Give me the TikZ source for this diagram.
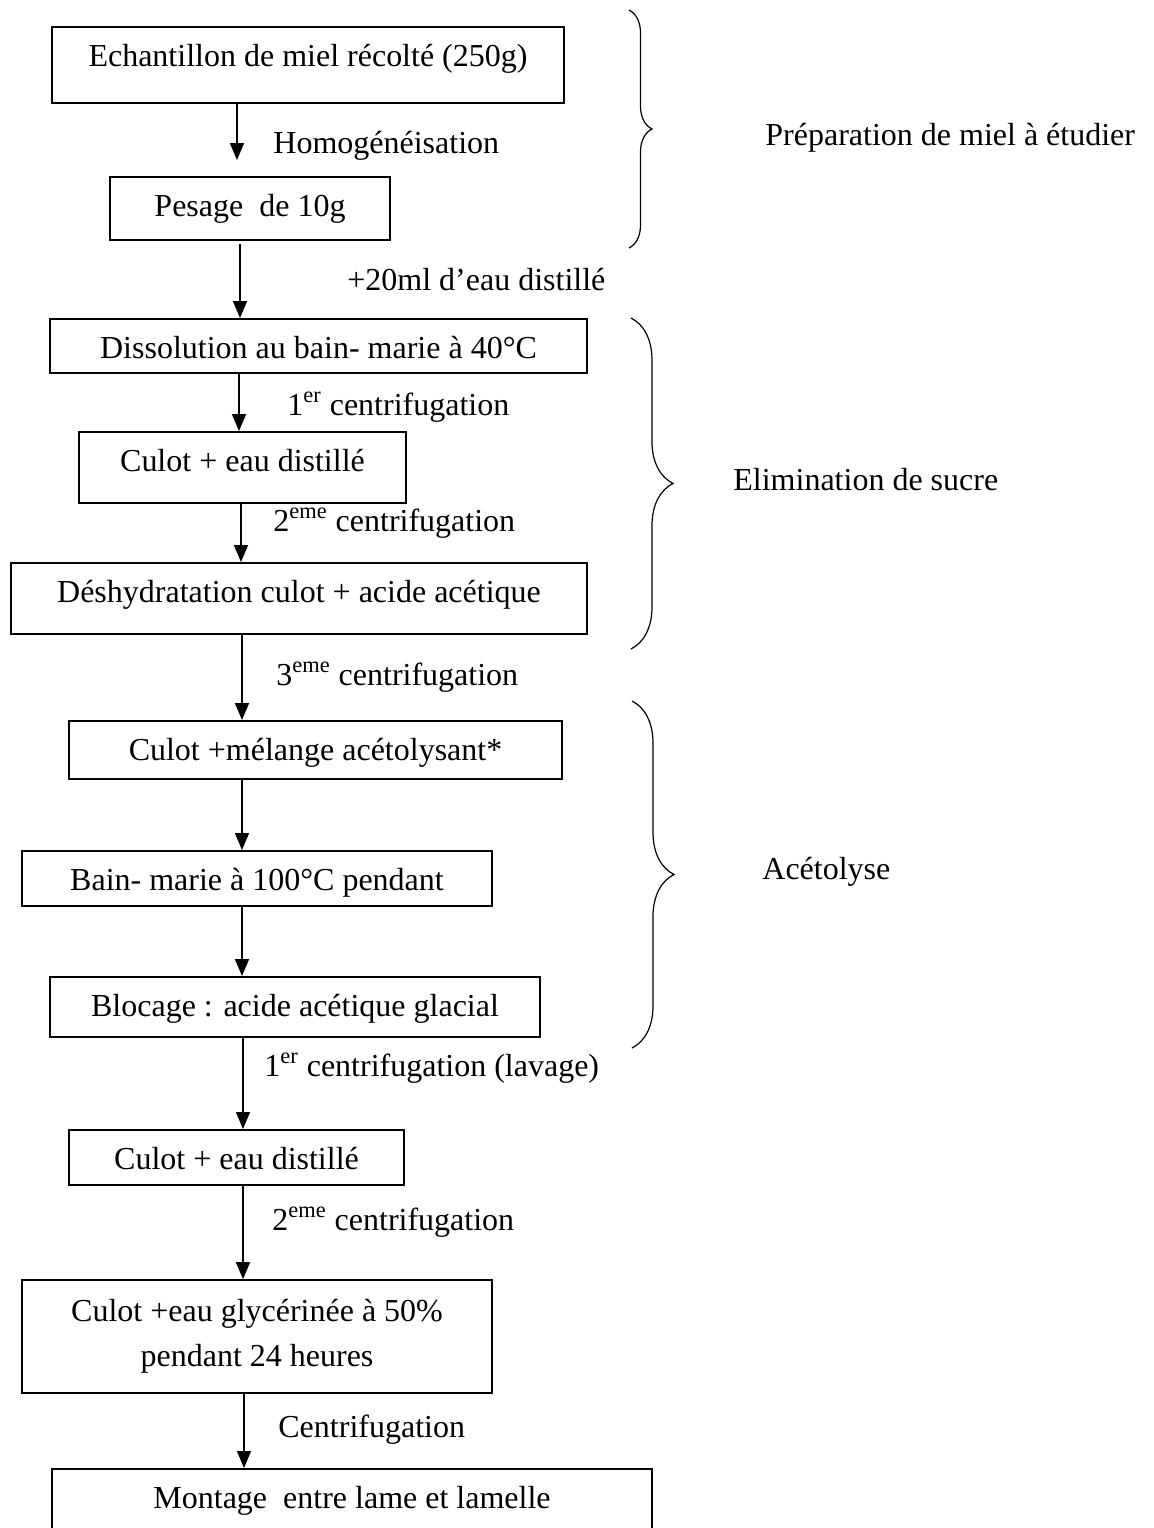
\documentclass[tikz,border=0pt]{standalone}
\usepackage{fontspec}
\setmainfont{Liberation Serif}
\usetikzlibrary{arrows.meta,decorations.pathreplacing}
\newcommand{\px}{0.5pt}

\begin{document}
\begin{tikzpicture}[x=0.5pt,y=-0.5pt,
  box/.style={draw,line width=0.9pt,inner sep=0pt,align=center,font=\fontsize{16}{22.5}\selectfont},
  tbox/.style={box,anchor=north,text height=20pt,text depth=#1},
  flow/.style={-{Triangle[length=8.5pt,width=7pt]},line width=0.8pt},
  lbl/.style={anchor=west,inner sep=0pt,font=\fontsize{16}{20.5}\selectfont},
  brc/.style={decorate,decoration={brace,amplitude=#1},line width=0.6pt}]
\useasboundingbox (0,0) rectangle (1154,1528);
\clip (0,0) rectangle (1154,1528);
% Preparation
\node[tbox=18pt,minimum width=512*\px] (b1) at (308,26) {Echantillon de miel récolté (250g)};
\node[tbox=11.5pt,minimum width=280*\px] (b2) at (250,176) {Pesage\ \ de 10g};
% Elimination de sucre
\node[tbox=7pt,minimum width=537*\px] (b3) at (318.5,318) {Dissolution au bain- marie à 40°C};
\node[tbox=15.5pt,minimum width=327*\px] (b4) at (242.5,431) {Culot + eau distillé};
\node[tbox=15.5pt,minimum width=576*\px] (b5) at (299,562) {Déshydratation culot + acide acétique};
% Acetolyse
\node[tbox=9pt,minimum width=493*\px] (b6) at (315.5,720) {Culot +mélange acétolysant*};
\node[tbox=7.5pt,minimum width=470*\px] (b7) at (257,850) {Bain- marie à 100°C pendant};
\node[tbox=10pt,minimum width=490*\px] (b8) at (295,976) {Blocage : acide acétique glacial};
% Lavage et montage
\node[tbox=7.5pt,minimum width=335*\px] (b9) at (236.5,1129) {Culot + eau distillé};
\node[box,minimum width=470*\px,minimum height=113*\px] (b10) at (257,1336.5) {Culot +eau glycérinée à 50\%\\pendant 24 heures};
\node[tbox=40pt,minimum width=600*\px] (b11) at (352,1468) {Montage\ \ entre lame et lamelle};
% arrow columns
\coordinate (a1) at (237,0);
\coordinate (a2) at (240,0);
\coordinate (a3) at (239,0);
\coordinate (a4) at (241,0);
\coordinate (a6) at (242,0);
\coordinate (a8) at (243,0);
\coordinate (a10) at (244,0);
\draw[flow,shorten >=16*\px] (b1.south -| a1) -- (b2.north -| a1);
\draw[flow,shorten <=3*\px] (b2.south -| a2) -- (b3.north -| a2);
\draw[flow] (b3.south -| a3) -- (b4.north -| a3);
\draw[flow] (b4.south -| a4) -- (b5.north -| a4);
\draw[flow] (b5.south -| a6) -- (b6.north -| a6);
\draw[flow] (b6.south -| a6) -- (b7.north -| a6);
\draw[flow] (b7.south -| a6) -- (b8.north -| a6);
\draw[flow] (b8.south -| a8) -- (b9.north -| a8);
\draw[flow] (b9.south -| a8) -- (b10.north -| a8);
\draw[flow] (b10.south -| a10) -- (b11.north -| a10);
% step labels
\node[lbl] (l1) at (273,146) {Homogénéisation};
\node[lbl] (l2) at (347,280) {+20ml d’eau distillé};
\node[lbl] (l3) at (287,407) {1\textsuperscript{er} centrifugation};
\node[lbl] (l4) at (273,523) {2\textsuperscript{eme} centrifugation};
\node[lbl] (l5) at (276,677) {3\textsuperscript{eme} centrifugation};
\node[lbl] (l6) at (264,1068) {1\textsuperscript{er} centrifugation (lavage)};
\node[lbl] (l7) at (272,1222) {2\textsuperscript{eme} centrifugation};
\node[lbl] (l8) at (278,1430) {Centrifugation};
% braces
\coordinate (p1) at (629,10);
\coordinate (q1) at (629,248);
\coordinate (p2) at (631,318);
\coordinate (q2) at (631,649);
\coordinate (p3) at (632,701);
\coordinate (q3) at (632,1048);
\draw[brc=11.5pt] (p1) -- (q1);
\draw[brc=21pt] (p2) -- (q2);
\draw[brc=21pt] (p3) -- (q3);
\node[lbl] (r1) at (765,138) {Préparation de miel à étudier};
\node[lbl] (r2) at (733,480) {Elimination de sucre};
\node[lbl] (r3) at (762,872) {Acétolyse};
\end{tikzpicture}
\end{document}
